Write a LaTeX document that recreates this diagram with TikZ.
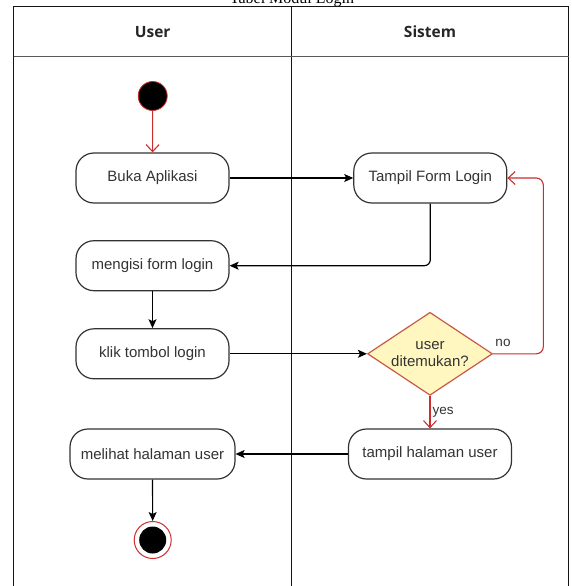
\documentclass[tikz,border=0pt]{standalone}
\usepackage{fontspec}
\setmainfont{Liberation Serif}
\newfontfamily\nodefont{Liberation Sans}
\newfontfamily\headfont{Open Sans}
\usetikzlibrary{arrows.meta,shapes.geometric}

\definecolor{umlred}{RGB}{205,45,45}
\definecolor{decfill}{RGB}{255,246,192}
\definecolor{decline}{RGB}{200,90,70}
\definecolor{inkgray}{RGB}{51,51,51}
\definecolor{framegray}{RGB}{20,20,20}

\tikzset{
  lane/.style={draw=framegray, line width=1.4pt},
  lanehead/.style={font=\headfont\bfseries\fontsize{15.5}{18}\selectfont, text=black!85},
  action/.style={draw=inkgray, line width=1.2pt, rounded corners=18pt, fill=white,
    minimum height=50pt, inner sep=0pt, text=inkgray,
    font=\nodefont\fontsize{15}{18}\selectfont},
  decision/.style={shape=diamond, draw=decline, line width=1.2pt, fill=decfill,
    minimum width=125pt, minimum height=83pt, inner sep=0pt},
  dectext/.style={align=center, text=inkgray, inner sep=0pt,
    font=\nodefont\fontsize{15}{17.5}\selectfont},
  edgelabel/.style={text=inkgray, inner sep=0pt, font=\nodefont\fontsize{13.5}{16}\selectfont},
  initial/.style={circle, fill=black, draw=umlred, line width=0.8pt,
    minimum size=29pt, inner sep=0pt},
  finalring/.style={circle, fill=white, draw=umlred, line width=1pt,
    minimum size=37pt, inner sep=0pt},
  finaldot/.style={circle, fill=black, minimum size=27pt, inner sep=0pt},
  flow/.style={draw=black, line width=1.2pt, -{Stealth[length=9pt,width=8pt,inset=2pt]}},
  guard/.style={draw=umlred, line width=1.1pt, -{Straight Barb[length=7pt,width=13pt]}},
}

\begin{document}
\begin{tikzpicture}[x=1pt, y=-1pt]
  \useasboundingbox (0,0) rectangle (572,586);

  % caption above the table (partly outside the page)
  \node[font=\fontsize{16}{19}\selectfont, anchor=base] (cap) at (292,3.5) {Tabel Modul Login};

  % swimlane frame
  \draw[lane] (13.7,600) -- (13.7,6.3) -- (568.5,6.3) -- (568.5,600);
  \draw[lane] (291.7,6.3) -- (291.7,600);
  \draw[draw=black!65, line width=1.6pt] (13.7,56.7) -- (568.5,56.7);
  \node[lanehead] (huser) at (152.7,32) {User};
  \node[lanehead] (hsys) at (430,32) {Sistem};

  % activity nodes
  \node[initial] (start) at (152.7,96) {};
  \node[action, minimum width=153pt] (buka) at (152.5,178) {Buka Aplikasi};
  \node[action, minimum width=153pt] (isi) at (152.5,265.7) {mengisi form login};
  \node[action, minimum width=153pt] (klik) at (152.5,353.8) {klik tombol login};
  \node[action, minimum width=165pt] (lihat) at (152.5,454) {melihat halaman user};
  \node[finalring] (endring) at (152.7,540) {};
  \node[finaldot] (enddot) at (endring) {};

  \node[action, minimum width=153pt] (form) at (430.3,178) {Tampil Form Login};
  \node[decision] (dec) at (430,353.8) {};
  \node[dectext] (dectxt) at (dec) {user\\ditemukan?};
  \node[action, minimum width=163pt] (tampil) at (430,454) {tampil halaman user};
  \coordinate (loop) at (543.3,178);

  % control flow
  \draw[guard] (start) -- (buka);
  \draw[flow] (buka) -- (form);
  \draw[draw=black, line width=1.2pt, rounded corners=6pt, -{Stealth[length=9pt,width=8pt,inset=2pt]}]
    (form.south) |- (isi.east);
  \draw[flow] (isi) -- (klik);
  \draw[flow] (klik.east) -- (dec.west);
  \draw[guard, rounded corners=7pt] (dec.east) -- (dec.east -| loop) -- (loop) -- (form.east);
  \draw[guard] (dec.south) -- (tampil.north);
  \draw[flow] (tampil.west) -- (lihat.east);
  \draw[flow] (lihat) -- (endring);

  % guard labels
  \node[edgelabel] (lno) at (503,343) {no};
  \node[edgelabel] (lyes) at (443,412) {yes};
\end{tikzpicture}
\end{document}
